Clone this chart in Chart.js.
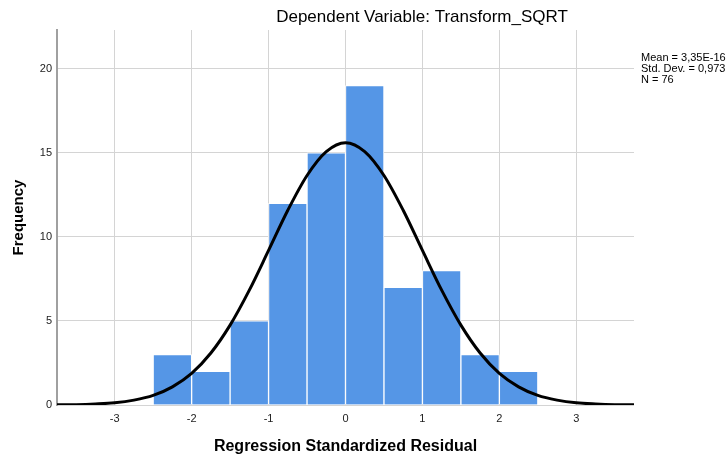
<!DOCTYPE html>
<html lang="en">
<head>
    <meta charset="UTF-8">
    <title>Histogram</title>
    <script src="https://cdn.jsdelivr.net/npm/chart.js"></script>
    <style>
        body { margin: 0; background: #ffffff; }
        #wrap { width: 728px; height: 459px; }
    </style>
</head>
<body>
    <div id="wrap"><canvas id="histChart" width="728" height="459"></canvas></div>
    <script>
        // histogram bins (centre of each 0.5 wide bin) and counts
        const binCenters = [-2.25, -1.75, -1.25, -0.75, -0.25, 0.25, 0.75, 1.25, 1.75, 2.25];
        const counts = [3, 2, 5, 12, 15, 19, 7, 8, 3, 2];

        // normal curve
        const curveX = [-3.75, -3.5, -3.25, -3, -2.75, -2.5, -2.25, -2, -1.75, -1.5, -1.25, -1, -0.75, -0.5, -0.25,
                        0, 0.25, 0.5, 0.75, 1, 1.25, 1.5, 1.75, 2, 2.25, 2.5, 2.75, 3, 3.25, 3.5, 3.75];
        const curveY = [0.01, 0.02, 0.06, 0.13, 0.29, 0.57, 1.08, 1.88, 3.09, 4.75, 6.83, 9.19, 11.58, 13.65, 15.07,
                        15.6, 15.07, 13.65, 11.58, 9.19, 6.83, 4.75, 3.09, 1.88, 1.08, 0.57, 0.29, 0.13, 0.06, 0.02, 0.01];

        const xTicks = [-3, -2, -1, 0, 1, 2, 3];
        const yTicks = [0, 5, 10, 15, 20];

        const chartTitle = 'Dependent Variable: Transform_SQRT';
        const statsLines = ['Mean = 3,35E-16', 'Std. Dev. = 0,973', 'N = 76'];

        const FONT = "'Liberation Sans', Arial, sans-serif";

        // title and stats box drawn as text on the canvas
        const textPlugin = {
            id: 'extraText',
            afterDraw(chart) {
                const ctx = chart.ctx;
                ctx.save();
                ctx.fillStyle = '#000';
                ctx.textBaseline = 'middle';
                ctx.textAlign = 'center';
                ctx.font = '17px ' + FONT;
                ctx.fillText(chartTitle, 422, 17);
                ctx.textAlign = 'left';
                ctx.font = '11px ' + FONT;
                statsLines.forEach((t, i) => ctx.fillText(t, 641, 58 + i * 11));
                ctx.restore();
            }
        };

        const ctx = document.getElementById('histChart').getContext('2d');
        new Chart(ctx, {
            data: {
                datasets: [{
                    type: 'line',
                    data: curveX.map((x, i) => ({ x: x, y: curveY[i] })),
                    borderColor: '#000',
                    borderWidth: 3,
                    pointRadius: 0,
                    fill: false,
                    cubicInterpolationMode: 'monotone',
                    order: 0
                }, {
                    type: 'bar',
                    data: binCenters.map((x, i) => ({ x: x, y: counts[i] })),
                    backgroundColor: '#5596e6',
                    borderColor: '#ffffff',
                    borderWidth: 1,
                    barPercentage: 1,
                    categoryPercentage: 1,
                    order: 1
                }]
            },
            options: {
                responsive: false,
                animation: false,
                layout: { padding: { top: 30, right: 94, left: 0, bottom: 0 } },
                plugins: {
                    legend: { display: false },
                    tooltip: { enabled: false }
                },
                scales: {
                    x: {
                        type: 'linear',
                        min: -3.75,
                        max: 3.75,
                        offset: false,
                        afterFit: s => { s.height = 54; },
                        afterBuildTicks: s => { s.ticks = xTicks.map(v => ({ value: v })); },
                        grid: { color: '#d4d4d4', lineWidth: 1, drawTicks: false, offset: false },
                        border: { display: false },
                        ticks: { color: '#222', font: { family: FONT, size: 11 }, padding: 7 },
                        title: {
                            display: true,
                            text: 'Regression Standardized Residual',
                            color: '#000',
                            font: { family: FONT, size: 16, weight: 'bold' },
                            padding: { top: 0, bottom: 3 }
                        }
                    },
                    y: {
                        min: 0,
                        max: 22.3,
                        afterFit: s => { s.width = 57; },
                        afterBuildTicks: s => { s.ticks = yTicks.map(v => ({ value: v })); },
                        grid: { color: '#d4d4d4', lineWidth: 1, drawTicks: false },
                        border: { display: true, color: '#a0a0a0', width: 2 },
                        ticks: { color: '#222', font: { family: FONT, size: 11 }, padding: 5 },
                        title: {
                            display: true,
                            text: 'Frequency',
                            color: '#000',
                            font: { family: FONT, size: 15, weight: 'bold' },
                            padding: { top: 10, bottom: 0 }
                        }
                    }
                }
            },
            plugins: [textPlugin]
        });
    </script>
</body>
</html>
